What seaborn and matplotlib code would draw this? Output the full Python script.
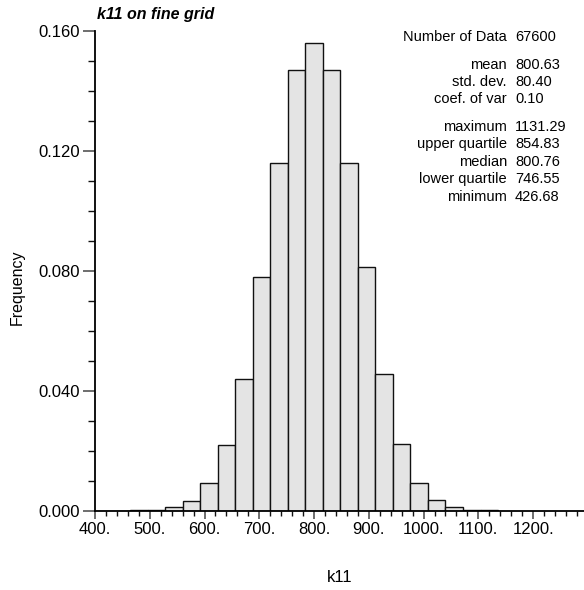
import numpy as np
import pandas as pd
import seaborn as sns
import matplotlib
matplotlib.use("Agg")
import matplotlib.pyplot as plt
from matplotlib.ticker import MultipleLocator

# Histogram classes: width 32, starting at 400
frequencies = [
    0.0, 0.00005, 0.0001, 0.0004, 0.0012, 0.0033, 0.0093, 0.0218, 0.0438,
    0.0780, 0.1160, 0.1469, 0.1558, 0.1469, 0.1160, 0.0811, 0.0456, 0.0221,
    0.0091, 0.0036, 0.0011, 0.0003, 0.0001,
]
bin_edges = [400 + 32 * k for k in range(len(frequencies) + 1)]
bin_centers = [e + 16 for e in bin_edges[:-1]]

x_ticks = [400, 500, 600, 700, 800, 900, 1000, 1100, 1200]
x_tick_labels = ["400.", "500.", "600.", "700.", "800.", "900.", "1000.", "1100.", "1200."]
y_ticks = [0.0, 0.04, 0.08, 0.12, 0.16]
y_tick_labels = ["0.000", "0.040", "0.080", "0.120", "0.160"]

stat_names = ["Number of Data", "mean", "std. dev.", "coef. of var",
              "maximum", "upper quartile", "median", "lower quartile", "minimum"]
stat_values = ["67600", "800.63", "80.40", "0.10",
               "1131.29", "854.83", "800.76", "746.55", "426.68"]

sns.set_style("ticks")
plt.rcParams["font.family"] = ["Liberation Sans Narrow", "Liberation Sans", "DejaVu Sans"]
plt.rcParams["text.color"] = "black"
plt.rcParams["xtick.labelcolor"] = "black"
plt.rcParams["ytick.labelcolor"] = "black"

W, H = 584, 590
fig = plt.figure(figsize=(W / 100, H / 100), dpi=100)
ax = fig.add_axes([95 / W, 1 - 510.7 / H, 1 - 95 / W, (510.7 - 30.7) / H])

df = pd.DataFrame({"k11": bin_centers, "freq": frequencies})
sns.histplot(data=df, x="k11", weights="freq", bins=bin_edges, stat="count",
             color="#e4e4e4", edgecolor="#111111", linewidth=1.0, alpha=1.0, ax=ax)

ax.set_xlim(400, 1293)
ax.set_ylim(0, 0.16)
sns.despine(ax=ax)
for side in ("left", "bottom"):
    ax.spines[side].set_linewidth(1.3)
    ax.spines[side].set_color("black")

ax.set_xticks(x_ticks)
ax.set_xticklabels(x_tick_labels)
ax.xaxis.set_minor_locator(MultipleLocator(20))
ax.set_yticks(y_ticks)
ax.set_yticklabels(y_tick_labels)
ax.yaxis.set_minor_locator(MultipleLocator(0.01))

ax.tick_params(axis="x", which="major", length=6, width=1.2, color="#555555",
               labelsize=12, pad=2, labelcolor="black")
ax.tick_params(axis="x", which="minor", length=3.5, width=1.0, color="#111111")
ax.tick_params(axis="y", which="major", length=9, width=1.2, color="#555555",
               labelsize=12, pad=2, labelcolor="black")
ax.tick_params(axis="y", which="minor", length=5, width=1.0, color="#111111")

ax.set_xlabel("")
ax.set_ylabel("")
fig.text(340 / W, 1 - 577 / H, "k11", ha="center", va="center", fontsize=12)
fig.text(17 / W, 1 - 287 / H, "Frequency", ha="center", va="center",
         rotation=90, fontsize=11.5)
fig.text(97 / W, 1 - 14 / H, "k11 on fine grid", ha="left", va="center",
         fontsize=11.5, fontweight="bold", fontstyle="italic")

rows_y = [37, 65, 82, 99, 127, 144, 162, 179, 197]
for name, val, yy in zip(stat_names, stat_values, rows_y):
    fig.text(507 / W, 1 - yy / H, name, ha="right", va="center", fontsize=10.5)
    fig.text(515 / W, 1 - yy / H, val, ha="left", va="center", fontsize=10.5)

fig.savefig("out.png", dpi=100)
